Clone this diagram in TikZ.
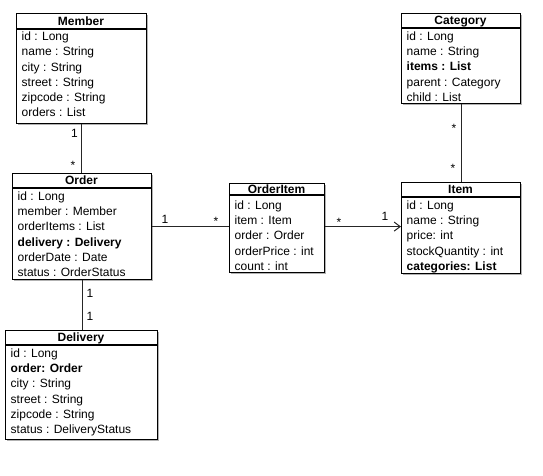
\documentclass[tikz,border=0pt]{standalone}
\usepackage{fontspec}
\setmainfont{Liberation Sans}
\usetikzlibrary{shadows,arrows.meta}
\tikzset{
 clsbox/.style={draw, line width=1.2pt, fill=white, inner sep=0pt, drop shadow={shadow xshift=1.5pt, shadow yshift=-1.8pt, opacity=0.3, fill=black}},
 attr/.style={inner sep=0pt, font=\fontsize{12}{14}\selectfont},
 ttl/.style={inner sep=0pt, font=\fontsize{12}{14}\selectfont\bfseries},
 lbl/.style={inner sep=0pt, font=\fontsize{12}{14}\selectfont},
 assoc/.style={line width=1pt, draw=black!85},
}
\newcommand\umlclass[9]{%
 \node[clsbox, anchor=north west, minimum width={#4-#2}, minimum height={#5-#3}] (#1) at (#2,#3) {};
 \node[ttl, anchor=base] (#1-title) at ({(#2+#4)/2},{(#3+#6)/2+4.3}) {#8};
 \draw[line width=1.2pt] (#2,#6) -- (#4,#6);
 \foreach \t [count=\i] in {#9} {\node[attr, anchor=base west] (#1-\i) at (#2+5.5,{#7+(\i-1)*15.3}) {\t};}
}
\begin{document}
\begin{tikzpicture}[x=1pt,y=-1pt]
\useasboundingbox (0,0) rectangle (543,476);
\umlclass{member}{16}{13}{146}{123}{29}{40.5}{Member}{id : Long, name : String, city : String, street : String, zipcode : String, orders : List}
\umlclass{order}{12}{173}{151}{279}{188}{200.3}{Order}{id : Long, member : Member, orderItems : List, \textbf{delivery : Delivery}, orderDate : Date, status : OrderStatus}
\umlclass{orderitem}{229}{183}{324}{272}{195}{209.3}{OrderItem}{id : Long, item : Item, order : Order, orderPrice : int, count : int}
\umlclass{category}{401}{13}{520}{103}{28}{40.3}{Category}{id : Long, name : String, \textbf{items : List}, parent : Category, child : List}
\umlclass{item}{401}{182}{520}{273}{197}{209.3}{Item}{id : Long, name : String, price: int, stockQuantity : int, \textbf{categories: List}}
\umlclass{delivery}{5}{330}{157}{439}{345}{357.3}{Delivery}{id : Long, \textbf{order: Order}, city : String, street : String, zipcode : String, status : DeliveryStatus}

\draw[assoc] (member.south) -- (member.south |- order.north);
\draw[assoc] (order.south) -- (order.south |- delivery.north);
\draw[assoc] (order.east) -- (order.east -| orderitem.west);
\draw[assoc, -{Straight Barb[length=6pt,width=9pt]}] (order.east -| orderitem.east) -- (order.east -| item.west);
\draw[assoc] (category.south) -- (category.south |- item.north);

\node[lbl, anchor=base] (m1) at (74.5,137.3) {1};
\node[lbl, anchor=base] (m2) at (73,169) {*};
\node[lbl, anchor=base] (o1) at (165,223.3) {1};
\node[lbl, anchor=base] (o2) at (216,225) {*};
\node[lbl, anchor=base] (i1) at (339,226) {*};
\node[lbl, anchor=base] (i2) at (385,220.3) {1};
\node[lbl, anchor=base] (d1) at (90,297.3) {1};
\node[lbl, anchor=base] (d2) at (90,320.3) {1};
\node[lbl, anchor=base] (c1) at (454,132) {*};
\node[lbl, anchor=base] (c2) at (453,172) {*};
\end{tikzpicture}
\end{document}
